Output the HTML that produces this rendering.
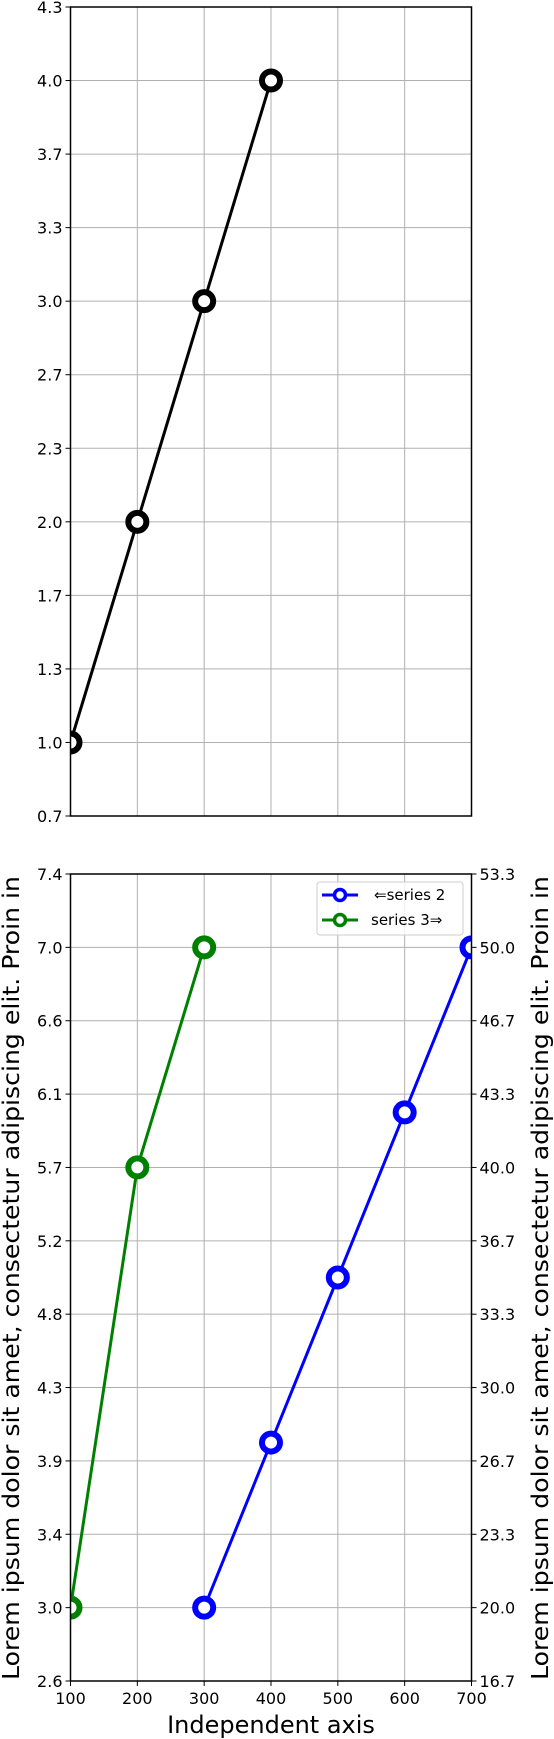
<!DOCTYPE html>
<html><head><meta charset="utf-8"><style>
html,body{margin:0;padding:0;background:#fff;}
svg{display:block;font-family:"DejaVu Sans","Liberation Sans",sans-serif;}
</style></head><body>
<svg id="c" width="554" height="1739" viewBox="0 0 554 1739" xmlns="http://www.w3.org/2000/svg">
<defs>
<clipPath id="clip1"><rect x="70.5" y="7" width="401" height="809"/></clipPath>
<clipPath id="clip2"><rect x="70.5" y="874" width="401" height="807"/></clipPath>
</defs>
</svg>
<script>
const xTicks=[100,200,300,400,500,600,700];
const s1x=[100,200,300,400];
const s1y=[1,2,3,4];
const s2x=[300,400,500,600,700];
const s2y=[20,27.5,35,42.5,50];
const s3x=[100,200,300];
const s3y=[3,5.667,7];
const topTickLabels=["0.7","1.0","1.3","1.7","2.0","2.3","2.7","3.0","3.3","3.7","4.0","4.3"];
const leftTickLabels=["2.6","3.0","3.4","3.9","4.3","4.8","5.2","5.7","6.1","6.6","7.0","7.4"];
const rightTickLabels=["16.7","20.0","23.3","26.7","30.0","33.3","36.7","40.0","43.3","46.7","50.0","53.3"];

const NS="http://www.w3.org/2000/svg";
const svg=document.getElementById('c');
function mk(t,a,p){const e=document.createElementNS(NS,t);for(const k in a)e.setAttribute(k,a[k]);(p||svg).appendChild(e);return e;}
const L=70.5,R=471.5;
const X=v=>L+(v-100)/600*(R-L);
const T1=7,B1=816,T2=874,B2=1681;
const Y1=v=>B1-(v-2/3)/(11/3)*(B1-T1);
const YL=v=>B2-(v-(3-4/9))/(44/9)*(B2-T2);
const YR=v=>B2-(v-(20-10/3))/(110/3)*(B2-T2);

function grid(T,B,g){
  xTicks.forEach(v=>{const l=mk('line',{x1:X(v),x2:X(v),y1:T,y2:B,stroke:'#b0b0b0','stroke-width':1},g);
    });
  for(let i=0;i<12;i++){const y=B-i*(B-T)/11;const l=mk('line',{x1:L,x2:R,y1:y,y2:y,stroke:'#b0b0b0','stroke-width':1},g);
    }
}
function series(xs,ys,Yf,col,name,clip){
  const g=mk('g',{'clip-path':'url(#'+clip+')'});
  
  const pts=xs.map((x,i)=>X(x)+','+Yf(ys[i])).join(' ');
  const pl=mk('polyline',{points:pts,fill:'none',stroke:col,'stroke-width':3},g);
  
  xs.forEach((x,i)=>{const c=mk('circle',{cx:X(x),cy:Yf(ys[i]),r:9,fill:'#fff',stroke:col,'stroke-width':6},g);
    });
}
function frame(T,B){
  const r=mk('rect',{x:L,y:T,width:R-L,height:B-T,fill:'none',stroke:'#000','stroke-width':1.5});
  
}

// top plot
const g1=mk('g',{});
grid(T1,B1,g1);
series(s1x,s1y,Y1,'#000','series-1','clip1');
frame(T1,B1);
topTickLabels.forEach((t,i)=>{const y=B1-i*(B1-T1)/11;
  mk('line',{x1:L-5,x2:L,y1:y,y2:y,stroke:'#000','stroke-width':1});
  const e=mk('text',{x:L-8,y:y+6,'text-anchor':'end','font-size':16,fill:'#000'});e.textContent=t;
  });

// bottom plot
const g2=mk('g',{});
grid(T2,B2,g2);
series(s3x,s3y,YL,'#008000','series-3','clip2');
series(s2x,s2y,YR,'#0000ff','series-2','clip2');
frame(T2,B2);
leftTickLabels.forEach((t,i)=>{const y=B2-i*(B2-T2)/11;
  mk('line',{x1:L-5,x2:L,y1:y,y2:y,stroke:'#000','stroke-width':1});
  const e=mk('text',{x:L-8,y:y+6,'text-anchor':'end','font-size':16,fill:'#000'});e.textContent=t;
  });
rightTickLabels.forEach((t,i)=>{const y=B2-i*(B2-T2)/11;
  mk('line',{x1:R,x2:R+5,y1:y,y2:y,stroke:'#000','stroke-width':1});
  const e=mk('text',{x:R+8,y:y+6,'text-anchor':'start','font-size':16,fill:'#000'});e.textContent=t;
  });
xTicks.forEach(v=>{mk('line',{x1:X(v),x2:X(v),y1:B2,y2:B2+5,stroke:'#000','stroke-width':1});
  const e=mk('text',{x:X(v),y:B2+23,'text-anchor':'middle','font-size':16,fill:'#000'});e.textContent=v;
  });
</script>
<svg width="554" height="1739" style="position:absolute;left:0;top:0" xmlns="http://www.w3.org/2000/svg">
<text x="271" y="1733" text-anchor="middle" font-size="24" font-family="DejaVu Sans, Liberation Sans, sans-serif">Independent axis</text>
<text transform="translate(19,1278) rotate(-90)" text-anchor="middle" font-size="23" textLength="804" lengthAdjust="spacingAndGlyphs" font-family="DejaVu Sans, Liberation Sans, sans-serif">Lorem ipsum dolor sit amet, consectetur adipiscing elit. Proin in</text>
<text transform="translate(548,1278) rotate(-90)" text-anchor="middle" font-size="23" textLength="804" lengthAdjust="spacingAndGlyphs" font-family="DejaVu Sans, Liberation Sans, sans-serif">Lorem ipsum dolor sit amet, consectetur adipiscing elit. Proin in</text>
<g font-family="DejaVu Sans, Liberation Sans, sans-serif" font-size="15">
<rect x="317" y="882" width="146" height="53" rx="3" fill="#fff" fill-opacity="0.8" stroke="#ccc"/>
<g>
<line x1="322" x2="358" y1="895" y2="895" stroke="#0000ff" stroke-width="3"/>
<circle cx="340" cy="895" r="5.5" fill="#fff" stroke="#0000ff" stroke-width="3.5"/>
<text x="374" y="900">⇐series 2</text></g>
<g>
<line x1="322" x2="358" y1="920" y2="920" stroke="#008000" stroke-width="3"/>
<circle cx="340" cy="920" r="5.5" fill="#fff" stroke="#008000" stroke-width="3.5"/>
<text x="371" y="925">series 3⇒</text></g>
</g>
</svg>
</body></html>
